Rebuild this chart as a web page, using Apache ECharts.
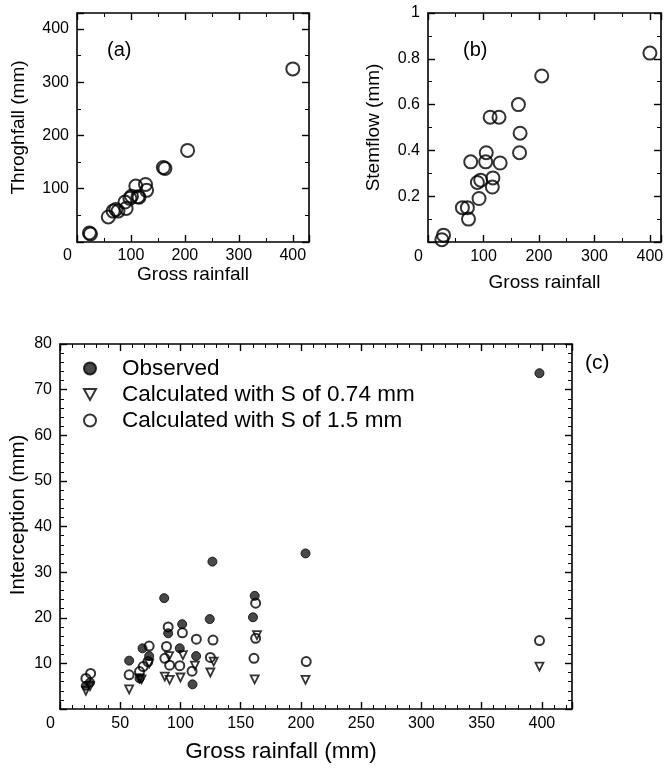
<!DOCTYPE html>
<html>
<head>
<meta charset="utf-8">
<script src="https://cdn.jsdelivr.net/npm/echarts@6/dist/echarts.min.js"></script>
<style>
html,body{margin:0;padding:0;background:#fff;}
#chart{width:667px;height:768px;}
</style>
</head>
<body>
<div id="chart"></div>
<script>
// Panel (a): throughfall vs gross rainfall
const grossA = [23, 25, 58, 67, 72, 76, 89, 91, 98, 101, 109, 113, 115, 127, 129, 160, 163, 205, 400];
const throughA = [17, 15, 47, 58, 61, 58, 75, 63, 82, 86, 105, 85, 84, 108, 97, 140, 138, 172, 325];
// Panel (b): stemflow vs gross rainfall
const grossB = [25, 28, 62, 71, 73, 77, 89, 92, 95, 104, 105, 112, 116, 117, 128, 130, 163, 165, 166, 205, 400];
const stemB = [0.01, 0.03, 0.15, 0.15, 0.10, 0.35, 0.26, 0.19, 0.27, 0.35, 0.39, 0.545, 0.24, 0.28, 0.545, 0.345, 0.60, 0.39, 0.475, 0.725, 0.825];
// Panel (c): interception
const obsX = [21.5, 24.9, 57.4, 66, 68.5, 74, 86.5, 89.8, 99.4, 101.4, 110, 113, 124.3, 126.5, 160.2, 161.6, 203.8, 398];
const obsY = [5.1, 5.8, 10.6, 6.7, 13.3, 11.6, 24.3, 16.6, 13.3, 18.6, 5.4, 11.6, 19.7, 32.3, 20.1, 24.8, 34.1, 73.6];
const s074X = [21.5, 24.9, 57.4, 66, 67.7, 74, 87, 90.6, 91, 100, 102, 112, 124.8, 127.6, 161.6, 163.5, 203.8, 398];
const s074Y = [4.0, 5.0, 4.3, 6.7, 6.5, 10.0, 7.1, 11.6, 6.4, 6.9, 11.8, 9.5, 8.0, 10.4, 6.5, 16.2, 6.4, 9.3];
const s15X = [21.5, 25.4, 57.4, 66, 69, 73, 74, 87, 88.4, 89.8, 91, 99.4, 101.6, 109.6, 113.2, 124.8, 127, 161, 162.4, 162.4, 204.4, 398];
const s15Y = [6.7, 7.8, 7.5, 8.2, 9.3, 10.4, 13.8, 11.1, 13.7, 18.0, 9.6, 9.5, 16.7, 8.3, 15.3, 11.3, 15.1, 11.1, 15.5, 23.2, 10.4, 15.0];

const legendNames = ['Observed', 'Calculated with S of 0.74 mm', 'Calculated with S of 1.5 mm'];
const titles = { a: '(a)', b: '(b)', c: '(c)', yA: 'Throghfall (mm)', yB: 'Stemflow (mm)', xAB: 'Gross rainfall',
  yC: 'Interception (mm)', xC: 'Gross rainfall (mm)' };

const FONT = 'Liberation Sans, Arial, Helvetica, sans-serif';
const pair = (xs, ys) => xs.map((v, i) => [v, ys[i]]);

const minor = n => ({ show: true, splitNumber: n, length: 4, lineStyle: { color: '#000', width: 1 } });

function axisBase(o) {
  return Object.assign({
    type: 'value',
    splitLine: { show: false },
    axisLine: { show: true, onZero: false, lineStyle: { color: '#000', width: 1.6 } },
    axisTick: { show: true, inside: true, length: 7, lineStyle: { color: '#000', width: 1.4 } },
    axisLabel: { color: '#000', fontFamily: FONT, fontSize: 16, showMaxLabel: false },
    nameTextStyle: { color: '#000', fontFamily: FONT, fontSize: 19 }
  }, o);
}

// x labels: the zero sits slightly left of the corner
const xLabel = (margin) => ({
  color: '#000', fontFamily: FONT, fontSize: 16, showMaxLabel: false, margin: margin,
  formatter: v => (v === 0 ? '{z|0}' : String(v)),
  rich: { z: { fontFamily: FONT, fontSize: 16, color: '#000', padding: [0, 19, 0, 0] } }
});
const yLabel = { color: '#000', fontFamily: FONT, fontSize: 16, showMaxLabel: true,
  formatter: v => (v === 0 ? '' : String(v)) };

const chart = echarts.init(document.getElementById('chart'), null, { renderer: 'canvas' });

const option = {
  backgroundColor: '#fff',
  animation: false,
  grid: [
    { left: 77, top: 13, width: 232, height: 229 },
    { left: 428, top: 13, width: 233, height: 229 },
    { left: 60, top: 344, width: 512, height: 365 }
  ],
  xAxis: [
    axisBase({ gridIndex: 0, min: 0, max: 430, interval: 100, position: 'bottom', minorTick: minor(2),
      axisLabel: xLabel(6), name: titles.xAB, nameLocation: 'middle', nameGap: 21 }),
    axisBase({ gridIndex: 0, min: 0, max: 430, interval: 100, position: 'top', minorTick: minor(2),
      axisLabel: { show: false } }),
    axisBase({ gridIndex: 1, min: 0, max: 420, interval: 100, position: 'bottom', minorTick: minor(2),
      axisLabel: xLabel(7), name: titles.xAB, nameLocation: 'middle', nameGap: 31 }),
    axisBase({ gridIndex: 1, min: 0, max: 420, interval: 100, position: 'top', minorTick: minor(2),
      axisLabel: { show: false } }),
    axisBase({ gridIndex: 2, min: 0, max: 425, interval: 50, position: 'bottom', minorTick: minor(5),
      axisLabel: xLabel(7) }),
    axisBase({ gridIndex: 2, min: 0, max: 425, interval: 50, position: 'top', minorTick: minor(5),
      axisLabel: { show: false } })
  ],
  yAxis: [
    axisBase({ gridIndex: 0, min: 0, max: 430, interval: 100, position: 'left', minorTick: minor(2),
      axisLabel: Object.assign({}, yLabel, { showMaxLabel: false }),
      name: titles.yA, nameLocation: 'middle', nameGap: 49 }),
    axisBase({ gridIndex: 0, min: 0, max: 430, interval: 100, position: 'right', minorTick: minor(2),
      axisLabel: { show: false } }),
    axisBase({ gridIndex: 1, min: 0, max: 1, interval: 0.2, position: 'left', minorTick: minor(2),
      axisLabel: yLabel, name: titles.yB, nameLocation: 'middle', nameGap: 45 }),
    axisBase({ gridIndex: 1, min: 0, max: 1, interval: 0.2, position: 'right', minorTick: minor(2),
      axisLabel: { show: false } }),
    axisBase({ gridIndex: 2, min: 0, max: 80, interval: 10, position: 'left', minorTick: minor(5),
      axisLabel: yLabel }),
    axisBase({ gridIndex: 2, min: 0, max: 80, interval: 10, position: 'right', minorTick: minor(5),
      axisLabel: { show: false } })
  ],
  legend: {
    orient: 'vertical', left: 83, top: 357, itemGap: 3, padding: 0,
    itemWidth: 12, itemHeight: 12,
    data: [
      { name: legendNames[0], icon: 'circle' },
      { name: legendNames[1], icon: 'path://M0,0 L10,0 L5,9 Z' },
      { name: legendNames[2], icon: 'circle' }
    ],
    textStyle: { color: '#000', fontFamily: FONT, fontSize: 22.5, padding: [0, 0, 0, 21] }
  },
  graphic: [
    { type: 'text', left: 107, top: 40, style: { text: titles.a, fontFamily: FONT, fontSize: 20, fill: '#000' } },
    { type: 'text', left: 463, top: 40, style: { text: titles.b, fontFamily: FONT, fontSize: 20, fill: '#000' } },
    { type: 'text', left: 585, top: 353, style: { text: titles.c, fontFamily: FONT, fontSize: 21, fill: '#000' } },
    { type: 'text', x: 281, y: 752, style: { text: titles.xC, fontFamily: FONT, fontSize: 22.5, fill: '#000',
      textAlign: 'center', textVerticalAlign: 'middle' } },
    { type: 'text', x: 18, y: 515, rotation: Math.PI / 2, style: { text: titles.yC, fontFamily: FONT, fontSize: 20.5, fill: '#000',
      textAlign: 'center', textVerticalAlign: 'middle' } }
  ],
  series: [
    { type: 'scatter', xAxisIndex: 0, yAxisIndex: 0, data: pair(grossA, throughA), symbol: 'circle', symbolSize: 13,
      itemStyle: { color: 'transparent', borderColor: '#000', borderWidth: 2 } },
    { type: 'scatter', xAxisIndex: 2, yAxisIndex: 2, data: pair(grossB, stemB), symbol: 'circle', symbolSize: 13,
      itemStyle: { color: 'transparent', borderColor: '#000', borderWidth: 2 } },
    { name: legendNames[0], type: 'scatter', xAxisIndex: 4, yAxisIndex: 4, data: pair(obsX, obsY), symbol: 'circle', symbolSize: 9,
      itemStyle: { color: '#1a1a1a', borderColor: '#000', borderWidth: 1 }, z: 3 },
    { name: legendNames[1], type: 'scatter', xAxisIndex: 4, yAxisIndex: 4, data: pair(s074X, s074Y), symbol: 'triangle', symbolRotate: 180, symbolSize: 8,
      itemStyle: { color: 'transparent', borderColor: '#000', borderWidth: 1.8 }, z: 4 },
    { name: legendNames[2], type: 'scatter', xAxisIndex: 4, yAxisIndex: 4, data: pair(s15X, s15Y), symbol: 'circle', symbolSize: 9,
      itemStyle: { color: 'transparent', borderColor: '#000', borderWidth: 2 }, z: 5 }
  ]
};
chart.setOption(option);
</script>
</body>
</html>
